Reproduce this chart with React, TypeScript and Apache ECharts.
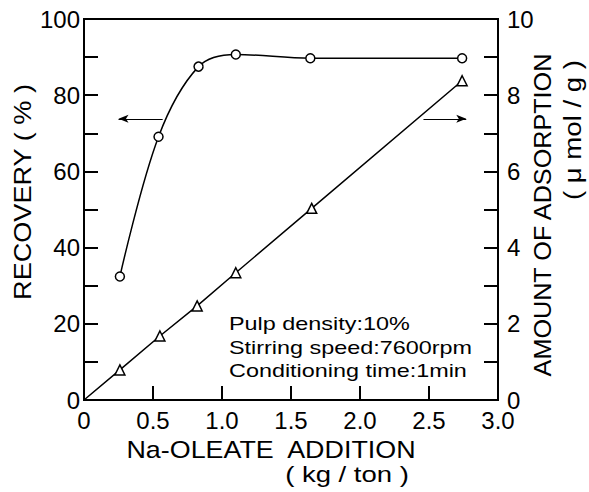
import React, { useEffect, useRef } from "react";
import * as echarts from "echarts";

// Recovery (%) vs Na-oleate addition (kg/ton)
const xRecovery = [0.26, 0.54, 0.83, 1.1, 1.64, 2.74];
const recovery = [32.4, 69.1, 87.5, 90.7, 89.7, 89.7];

// Amount of adsorption (umol/g) vs Na-oleate addition; first point is the line origin
const xAdsorption = [0, 0.26, 0.55, 0.82, 1.1, 1.65, 2.74];
const adsorption = [0, 0.79, 1.68, 2.47, 3.34, 5.03, 8.38];

// Arrow annotations (data coordinates)
const leftArrow = { from: [0.57, 73.8], to: [0.25, 73.8] };
const rightArrow = { from: [2.46, 7.38], to: [2.77, 7.38] };

const notes = ["Pulp density:10%", "Stirring speed:7600rpm", "Conditioning time:1min"];

const TICK_FONT = "Liberation Sans";
const TEXT_FONT = "Liberation Sans";

export default function App() {
  const ref = useRef<HTMLDivElement>(null);
  useEffect(() => {
    const chart = echarts.init(ref.current!, null, { renderer: "svg" });
    const black = "#000";
    const axisLine = { show: true, onZero: false, lineStyle: { color: black, width: 2 } };
    const tick = { show: true, inside: true, length: 14, lineStyle: { color: black, width: 2 } };
    const minor = { show: true, splitNumber: 2, length: 14, lineStyle: { color: black, width: 2 } };
    const label = { color: black, fontSize: 24, fontFamily: TICK_FONT };

    const title = (text: string, x: number, y: number, rot: number, sx: number, size = 24) => ({
      type: "text",
      x,
      y,
      rotation: rot,
      scaleX: sx,
      silent: true,
      style: {
        text,
        x: 0,
        y: 0,
        fill: black,
        font: `${size}px "${TEXT_FONT}"`,
        align: "center",
        verticalAlign: "middle",
      },
    });

    chart.setOption({
      animation: false,
      backgroundColor: "#fff",
      grid: {
        left: 84,
        right: 91,
        top: 19,
        bottom: 92,
        show: true,
        borderColor: black,
        borderWidth: 2,
        backgroundColor: "transparent",
      },
      xAxis: {
        type: "value",
        min: 0,
        max: 3,
        interval: 0.5,
        axisLine,
        axisTick: tick,
        splitLine: { show: false },
        axisLabel: {
          ...label,
          margin: 8,
          formatter: (v: number) => (v === 0 ? "0" : v.toFixed(1)),
        },
      },
      yAxis: [
        {
          type: "value",
          position: "left",
          min: 0,
          max: 100,
          interval: 20,
          axisLine,
          axisTick: tick,
          minorTick: minor,
          splitLine: { show: false },
          axisLabel: { ...label, margin: 4 },
        },
        {
          type: "value",
          position: "right",
          min: 0,
          max: 10,
          interval: 2,
          axisLine,
          axisTick: tick,
          minorTick: minor,
          splitLine: { show: false },
          axisLabel: { ...label, margin: 9 },
        },
      ],
      series: [
        {
          type: "line",
          yAxisIndex: 0,
          data: xRecovery.map((x, i) => [x, recovery[i]]),
          smooth: 0.35,
          symbol: "circle",
          symbolSize: 9,
          itemStyle: { color: "#fff", borderColor: black, borderWidth: 1.5 },
          lineStyle: { color: black, width: 1.5 },
          markLine: {
            silent: true,
            symbol: ["arrow", "none"],
            symbolSize: [6, 10],
            label: { show: false },
            lineStyle: { color: black, width: 1, type: "solid" },
            data: [[{ coord: leftArrow.to }, { coord: leftArrow.from }]],
          },
        },
        {
          type: "line",
          yAxisIndex: 1,
          data: xAdsorption.map((x, i) =>
            i === 0 ? { value: [x, adsorption[i]], symbol: "none" } : [x, adsorption[i]]
          ),
          symbol: "triangle",
          symbolSize: 10,
          itemStyle: { color: "#fff", borderColor: black, borderWidth: 1.5 },
          lineStyle: { color: black, width: 1.5 },
          markLine: {
            silent: true,
            symbol: ["none", "arrow"],
            symbolSize: [6, 10],
            label: { show: false },
            lineStyle: { color: black, width: 1, type: "solid" },
            data: [[{ coord: rightArrow.from }, { coord: rightArrow.to }]],
          },
        },
      ],
      graphic: [
        title("RECOVERY ( % )", 23, 192, Math.PI / 2, 1.13),
        title("AMOUNT OF ADSORPTION", 543, 215, Math.PI / 2, 1.05),
        title("( μ mol / g )", 573, 130, Math.PI / 2, 1.15),
        title("Na-OLEATE  ADDITION", 271, 450, 0, 1.12),
        title("( kg / ton )", 347, 474, 0, 1.25, 22),
        ...notes.map((t, i) => ({
          type: "text",
          x: 229,
          y: 324 + i * 23.5,
          scaleX: 1.3,
          silent: true,
          style: {
            text: t,
            x: 0,
            y: 0,
            fill: black,
            font: `18px "${TEXT_FONT}"`,
            align: "left",
            verticalAlign: "middle",
          },
        })),
      ],
    });
    return () => chart.dispose();
  }, []);
  return (
    <div
      ref={ref}
      style={{ position: "fixed", left: 0, top: 0, width: 589, height: 492, background: "#fff" }}
    />
  );
}
